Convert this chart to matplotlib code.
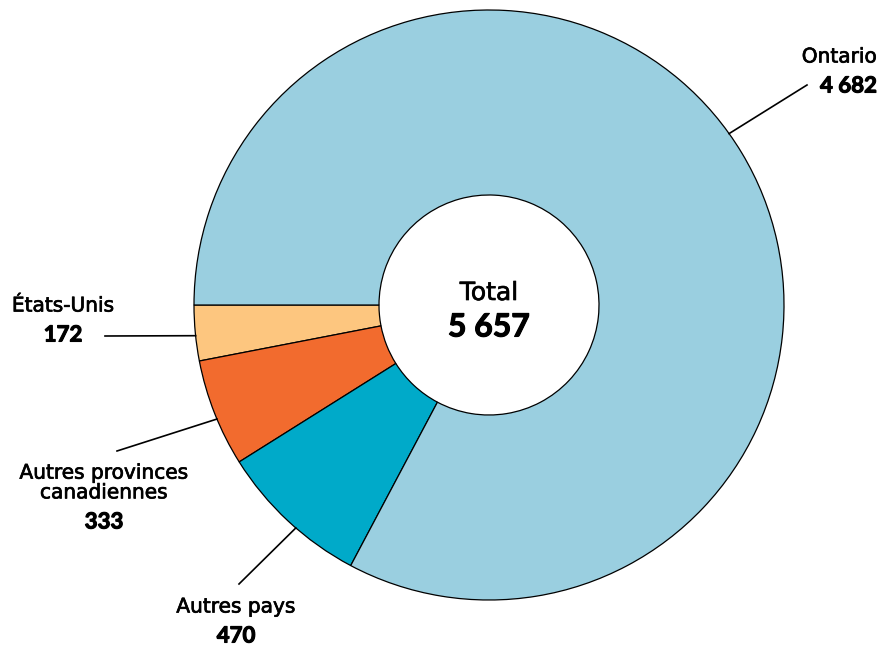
import numpy as np
import matplotlib
matplotlib.use("Agg")
import matplotlib.pyplot as plt
import matplotlib.patheffects as pe

plt.rcParams["font.family"] = ["DejaVu Sans"]

categories = ["États-Unis", "Autres provinces\ncanadiennes", "Autres pays", "Ontario"]
values = [172, 333, 470, 4682]
value_labels = ["172", "333", "470", "4 682"]
colors = ["#FDC67F", "#F26B2E", "#00AAC9", "#9ACFE0"]
total_label = "5 657"

W, H = 892, 645
fig = plt.figure(figsize=(W / 100, H / 100), dpi=100)
ax = fig.add_axes([0, 0, 1, 1])

cx, cy = 489, H - 305
R = 295
wedges, _ = ax.pie(values, colors=colors, startangle=180, counterclock=True,
                   center=(cx, cy), radius=R, frame=True,
                   wedgeprops=dict(width=R - 110, edgecolor="black", linewidth=0.9))
ax.set_xlim(0, W)
ax.set_ylim(0, H)
ax.axis("off")

num_font = dict(family="Lato", fontweight="bold")
medium = [pe.withStroke(linewidth=0.5, foreground="black")]
heavy = [pe.withStroke(linewidth=0.8, foreground="black")]

ax.text(cx, cy + 12, "Total", ha="center", va="center", fontsize=18, path_effects=medium)
ax.text(cx, cy - 22, total_label, ha="center", va="center", fontsize=23,
        path_effects=heavy, **num_font)

# label position (name centre), alignment, leader end, angle nudge
layout = {
    "États-Unis": ((63, 306), "center", (105, 336), 0.5),
    "Autres provinces\ncanadiennes": ((104, 483), "center", (117, 451), 1.2),
    "Autres pays": ((236, 607), "center", (239, 584), 2.0),
    "Ontario": ((877, 57), "right", (807, 85), 4.5),
}

for w, name, val in zip(wedges, categories, value_labels):
    (tx, ty), ha, (lx, ly), dang = layout[name]
    ang = np.deg2rad((w.theta1 + w.theta2) / 2 + dang)
    px, py = cx + R * np.cos(ang), cy + R * np.sin(ang)
    ax.plot([px, lx], [py, H - ly], color="black", lw=1.2)
    multi = "\n" in name
    ax.text(tx, H - ty, name, ha=ha, va="center", fontsize=14.5, linespacing=1.05,
            multialignment="center", path_effects=medium)
    vy = ty + 39 if multi else ty + 29
    ax.text(tx, H - vy, val, ha=ha, va="center", fontsize=16,
            path_effects=heavy, **num_font)

fig.savefig("out.png", dpi=100)
